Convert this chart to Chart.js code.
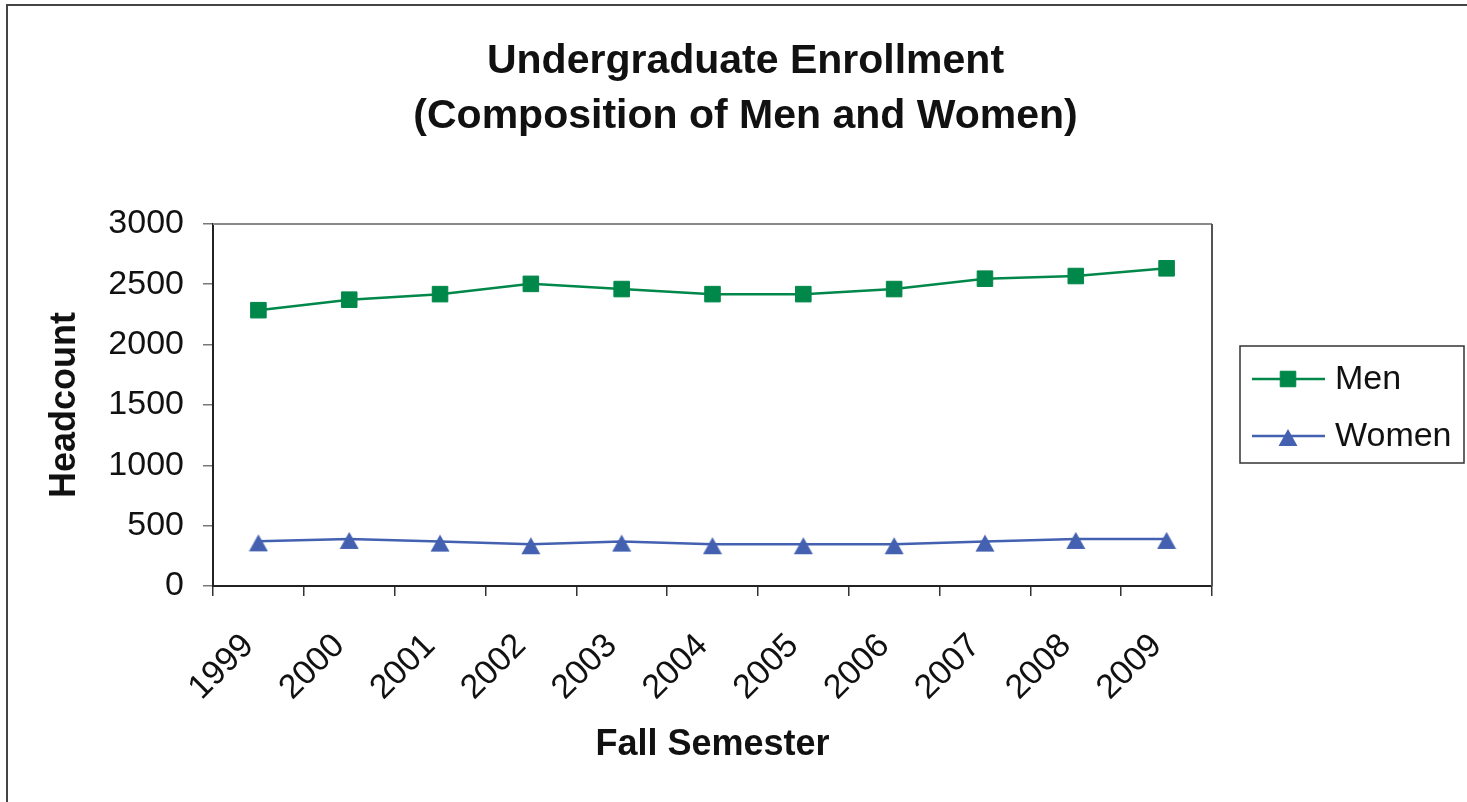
<!DOCTYPE html>
<html>
<head>
<meta charset="utf-8">
<script src="https://cdn.jsdelivr.net/npm/chart.js@4.4.1/dist/chart.umd.min.js"></script>
<style>
  html, body { margin: 0; padding: 0; background: #fff; }
  #wrap { width: 1467px; height: 802px; position: relative; }
</style>
</head>
<body>
<div id="wrap"><canvas id="graficoMatricula"></canvas></div>
<script>
const anos = ['1999', '2000', '2001', '2002', '2003', '2004', '2005', '2006', '2007', '2008', '2009'];
const homens = [2285, 2372, 2418, 2503, 2460, 2418, 2418, 2460, 2546, 2568, 2632];
const mulheres = [370, 390, 368, 346, 368, 346, 346, 346, 368, 390, 390];
const tituloLinhas = ['Undergraduate Enrollment', '(Composition of Men and Women)'];

const FONTE = "'Liberation Sans', Arial, sans-serif";
const verde = '#00884A';
const azul = '#4361B0';

// triangulo com o centro um pouco acima, como no Excel
function criarTriangulo(cor) {
    const c = document.createElement('canvas');
    c.width = 20;
    c.height = 22;
    const g = c.getContext('2d');
    g.fillStyle = cor;
    g.beginPath();
    g.moveTo(10, 4);
    g.lineTo(19.5, 21);
    g.lineTo(0.5, 21);
    g.closePath();
    g.fill();
    return c;
}
const trianguloAzul = criarTriangulo(azul);

// moldura externa + borda da area de plotagem
const molduras = {
    id: 'molduras',
    beforeDraw(chart) {
        const g = chart.ctx;
        g.save();
        g.strokeStyle = '#444';
        g.lineWidth = 2;
        g.beginPath();
        g.moveTo(7, 810);
        g.lineTo(7, 5);
        g.lineTo(1475, 5);
        g.stroke();
        g.restore();
    },
    beforeDatasetsDraw(chart) {
        const a = chart.chartArea;
        const g = chart.ctx;
        g.save();
        g.lineWidth = 2;
        g.strokeStyle = '#8a8a8a';
        g.beginPath();
        g.moveTo(a.left, a.top);
        g.lineTo(a.right, a.top);
        g.stroke();
        g.strokeStyle = '#555';
        g.beginPath();
        g.moveTo(a.right, a.top);
        g.lineTo(a.right, a.bottom);
        g.stroke();
        g.restore();
    }
};

// legenda desenhada a mao (linha + marcador)
const legendaCaixa = {
    id: 'legendaCaixa',
    afterDraw(chart) {
        const a = chart.chartArea;
        const g = chart.ctx;
        const x0 = a.right + 28, y0 = 346, w = 224, h = 117;
        g.save();
        g.strokeStyle = '#333';
        g.lineWidth = 1.5;
        g.strokeRect(x0, y0, w, h);
        g.font = '34px ' + FONTE;
        g.textBaseline = 'middle';
        chart.data.datasets.forEach((ds, i) => {
            const y = y0 + 33 + i * 57;
            g.strokeStyle = ds.borderColor;
            g.fillStyle = ds.borderColor;
            g.lineWidth = 2.5;
            g.beginPath();
            g.moveTo(x0 + 12, y);
            g.lineTo(x0 + 85, y);
            g.stroke();
            g.lineWidth = 1;
            Chart.helpers.drawPoint(g, {
                pointStyle: ds.pointStyle,
                radius: ds.pointRadius,
                borderWidth: 1
            }, x0 + 48, y);
            g.fillStyle = '#111';
            g.fillText(ds.label, x0 + 95, y + 1);
        });
        g.restore();
    }
};

const ctx = document.getElementById('graficoMatricula').getContext('2d');
const grafico = new Chart(ctx, {
    type: 'line',
    data: {
        labels: anos,
        datasets: [{
            label: 'Men',
            data: homens,
            borderColor: verde,
            backgroundColor: verde,
            borderWidth: 2.5,
            pointStyle: 'rect',
            pointRadius: 11,
            pointBorderWidth: 1,
            pointBackgroundColor: verde,
            pointBorderColor: verde,
            tension: 0
        }, {
            label: 'Women',
            data: mulheres,
            borderColor: azul,
            backgroundColor: azul,
            borderWidth: 2.5,
            pointStyle: trianguloAzul,
            pointRadius: 10,
            tension: 0
        }]
    },
    options: {
        responsive: true,
        maintainAspectRatio: false,
        animation: false,
        layout: { padding: { left: 24, right: 0, top: 0, bottom: 0 } },
        plugins: {
            legend: { display: false },
            tooltip: { enabled: false },
            title: {
                display: true,
                text: tituloLinhas,
                color: '#111',
                font: { family: FONTE, size: 41, weight: 'bold', lineHeight: 1.34 },
                padding: { top: 34, bottom: 80 }
            }
        },
        scales: {
            x: {
                offset: true,
                grid: {
                    offset: true,
                    drawOnChartArea: false,
                    drawTicks: true,
                    tickLength: 10,
                    tickColor: '#333',
                    lineWidth: 1.5
                },
                border: { display: true, color: '#222', width: 2 },
                ticks: {
                    autoSkip: false,
                    minRotation: 45,
                    maxRotation: 45,
                    padding: 30,
                    labelOffset: -10,
                    color: '#111',
                    font: { family: FONTE, size: 34 }
                },
                title: {
                    display: true,
                    text: 'Fall Semester',
                    color: '#111',
                    font: { family: FONTE, size: 36, weight: 'bold' },
                    padding: { top: 0, bottom: 35 }
                },
                afterFit(scale) { scale.height = 216; }
            },
            y: {
                min: 0,
                max: 3000,
                ticks: {
                    stepSize: 500,
                    padding: 19,
                    color: '#111',
                    font: { family: FONTE, size: 34 },
                    callback: v => String(v)
                },
                grid: {
                    drawOnChartArea: false,
                    drawTicks: true,
                    tickLength: 10,
                    tickColor: '#777',
                    lineWidth: 1.5
                },
                border: { display: true, color: '#222', width: 2 },
                title: {
                    display: true,
                    text: 'Headcount',
                    color: '#111',
                    font: { family: FONTE, size: 36, weight: 'bold' },
                    padding: { top: 19, bottom: 0 }
                },
                afterFit(scale) { scale.width = 189; }
            },
            // eixo vazio a direita so para reservar espaco da legenda
            reserva: {
                position: 'right',
                display: true,
                grid: { display: false },
                border: { display: false },
                ticks: { display: false },
                afterFit(scale) { scale.width = 255; }
            }
        }
    },
    plugins: [molduras, legendaCaixa]
});
</script>
</body>
</html>
